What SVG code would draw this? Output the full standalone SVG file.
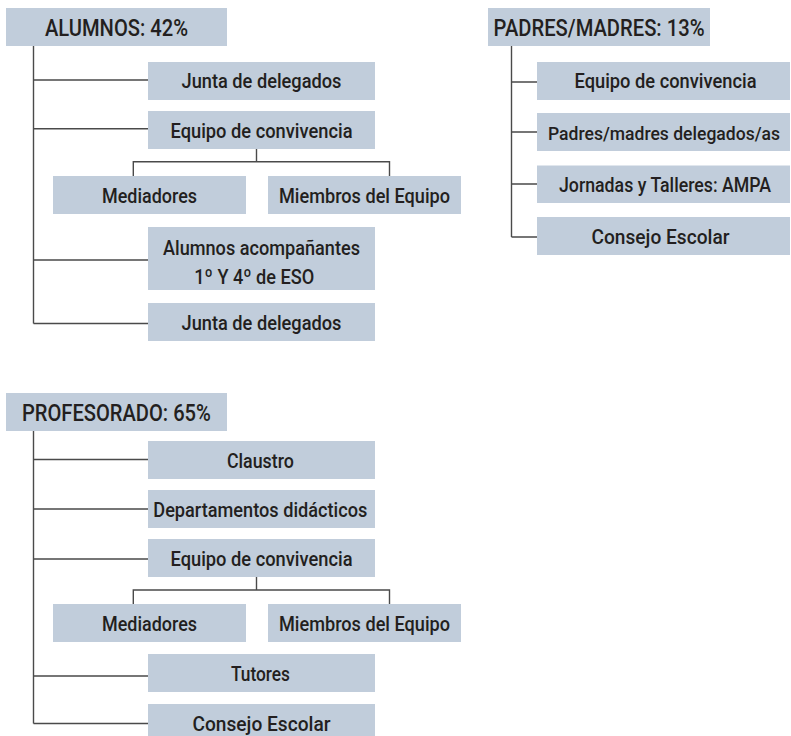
<svg xmlns="http://www.w3.org/2000/svg" width="791" height="736" viewBox="0 0 791 736">
<style>
.b{fill:#c1cddb}
.t{font-family:Roboto,"Liberation Sans",sans-serif;font-weight:500;font-size:20.5px;fill:#231f20;text-anchor:middle}
.h{font-size:23.5px}
.s{font-size:19.5px}
.x{font-size:18.5px}
.c{fill:none;stroke:#4a4a4a;stroke-width:1.4}
</style>
<rect width="791" height="736" fill="#fff"/>
<g id="connectors" class="c">
<path d="M33.5 46V323.5M33.5 80H148M33.5 128.7H148M33.5 260H148M33.5 323.5H148"/>
<path d="M256.5 149V161.7M133.3 176V161.7H389.5V176"/>
<path d="M511.5 46V237M511.5 82H537M511.5 132H537M511.5 184H537M511.5 237H537"/>
<path d="M33.5 431V723.5M33.5 459.5H148M33.5 509H148M33.5 559H148M33.5 676H148M33.5 723.5H148"/>
<path d="M256.5 577V590M133.3 604V590H389.5V604"/>
</g>
<g id="alumnos"><rect class="b" x="6" y="8" width="221" height="38"/><text class="t h" x="116.5" y="36" textLength="143" lengthAdjust="spacingAndGlyphs">ALUMNOS: 42%</text></g>
<g id="a-junta1"><rect class="b" x="148" y="62" width="227" height="38"/><text class="t" x="261.5" y="88" textLength="160" lengthAdjust="spacingAndGlyphs">Junta de delegados</text></g>
<g id="a-equipo"><rect class="b" x="148" y="111" width="227" height="38"/><text class="t" x="261.5" y="137.5" textLength="182" lengthAdjust="spacingAndGlyphs">Equipo de convivencia</text></g>
<g id="a-mediadores"><rect class="b" x="53" y="176" width="193" height="38"/><text class="t" x="149.5" y="202.5" textLength="95" lengthAdjust="spacingAndGlyphs">Mediadores</text></g>
<g id="a-miembros"><rect class="b" x="268" y="176" width="193" height="38"/><text class="t" x="364.5" y="202.5" textLength="171" lengthAdjust="spacingAndGlyphs">Miembros del Equipo</text></g>
<g id="a-acompanantes"><rect class="b" x="148" y="227" width="227" height="63"/><text class="t" x="261.5" y="254.5" textLength="197" lengthAdjust="spacingAndGlyphs">Alumnos acompañantes</text><text class="t" x="254.3" y="284" textLength="120" lengthAdjust="spacingAndGlyphs">1º Y 4º de ESO</text></g>
<g id="a-junta2"><rect class="b" x="148" y="303" width="227" height="38"/><text class="t" x="261.5" y="329.5" textLength="160" lengthAdjust="spacingAndGlyphs">Junta de delegados</text></g>
<g id="padres"><rect class="b" x="488" y="8" width="222" height="38"/><text class="t h" x="599" y="36" textLength="211" lengthAdjust="spacingAndGlyphs">PADRES/MADRES: 13%</text></g>
<g id="p-equipo"><rect class="b" x="537" y="62" width="253" height="38"/><text class="t" x="665.5" y="88" textLength="182" lengthAdjust="spacingAndGlyphs">Equipo de convivencia</text></g>
<g id="p-delegados"><rect class="b" x="537" y="113" width="253" height="38"/><text class="t x" x="664" y="139.5" textLength="232" lengthAdjust="spacingAndGlyphs">Padres/madres delegados/as</text></g>
<g id="p-jornadas"><rect class="b" x="537" y="165.5" width="253" height="37.5"/><text class="t s" x="665" y="191.5" textLength="212" lengthAdjust="spacingAndGlyphs">Jornadas y Talleres: AMPA</text></g>
<g id="p-consejo"><rect class="b" x="537" y="217" width="253" height="38"/><text class="t" x="660.5" y="243.5" textLength="138" lengthAdjust="spacingAndGlyphs">Consejo Escolar</text></g>
<g id="profesorado"><rect class="b" x="6" y="393" width="221" height="38"/><text class="t h" x="116.4" y="421" textLength="189" lengthAdjust="spacingAndGlyphs">PROFESORADO: 65%</text></g>
<g id="f-claustro"><rect class="b" x="148" y="441" width="227" height="38"/><text class="t" x="260.4" y="467.5" textLength="67" lengthAdjust="spacingAndGlyphs">Claustro</text></g>
<g id="f-departamentos"><rect class="b" x="148" y="490" width="227" height="38"/><text class="t" x="260.3" y="516.5" textLength="214" lengthAdjust="spacingAndGlyphs">Departamentos didácticos</text></g>
<g id="f-equipo"><rect class="b" x="148" y="539" width="227" height="38"/><text class="t" x="261.5" y="565.5" textLength="182" lengthAdjust="spacingAndGlyphs">Equipo de convivencia</text></g>
<g id="f-mediadores"><rect class="b" x="53" y="604" width="193" height="38"/><text class="t" x="149.5" y="630.5" textLength="95" lengthAdjust="spacingAndGlyphs">Mediadores</text></g>
<g id="f-miembros"><rect class="b" x="268" y="604" width="193" height="38"/><text class="t" x="364.5" y="630.5" textLength="171" lengthAdjust="spacingAndGlyphs">Miembros del Equipo</text></g>
<g id="f-tutores"><rect class="b" x="148" y="654" width="227" height="38"/><text class="t" x="260.5" y="680.5" textLength="59" lengthAdjust="spacingAndGlyphs">Tutores</text></g>
<g id="f-consejo"><rect class="b" x="148" y="704" width="227" height="38"/><text class="t" x="261.5" y="730.5" textLength="138" lengthAdjust="spacingAndGlyphs">Consejo Escolar</text></g>
</svg>
